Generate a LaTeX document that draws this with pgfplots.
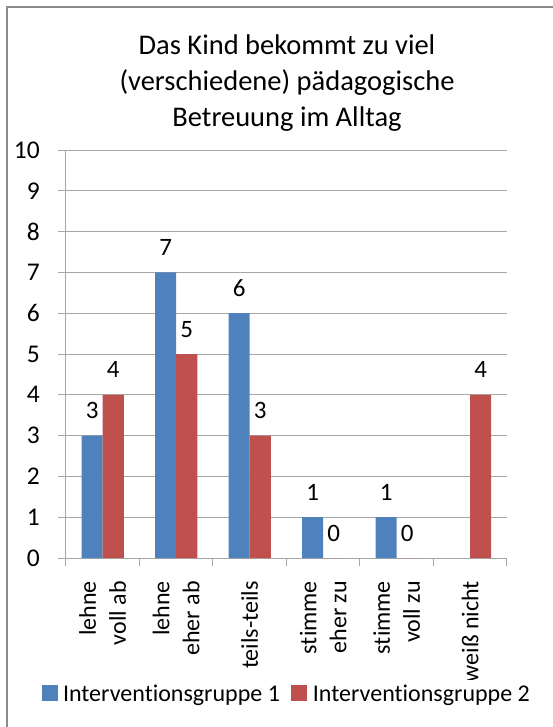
\documentclass[border=0pt]{standalone}
\usepackage{fontspec}
\setmainfont{Carlito}[Ligatures={NoCommon}]
\usepackage{pgfplots}
\pgfplotsset{compat=1.18}
\definecolor{barblue}{HTML}{4F81BD}
\definecolor{barred}{HTML}{C0504D}
\definecolor{gridgray}{HTML}{A6A6A6}
\definecolor{framegray}{HTML}{8C8C8C}
\newcommand{\lblfont}{\fontsize{24}{30}\selectfont}

\begin{document}
\begin{tikzpicture}
\useasboundingbox (0,0) rectangle (553pt,-727pt);
% frame (left and top only are visible)
\draw[framegray, line width=2pt] (7pt,-727pt) -- (7pt,-7pt) -- (553pt,-7pt);
\node[align=center, font=\fontsize{28.5}{36}\selectfont] at (287pt,-83pt)
  {Das Kind bekommt zu viel\\(verschiedene) pädagogische\\Betreuung im Alltag};
\begin{axis}[
  at={(66pt,-558pt)}, anchor=south west,
  scale only axis, width=441pt, height=408pt,
  ybar=0pt, bar width=21pt,
  xmin=0.5, xmax=6.5, ymin=0, ymax=10,
  enlargelimits=false,
  axis x line*=bottom, axis y line*=left,
  axis line style={gridgray, line width=1pt},
  ytick={0,1,...,10},
  xtick={1,...,6},
  minor xtick={0.5,1.5,...,6.5},
  xticklabels={{lehne\\voll ab},{lehne\\eher ab},{teils-teils},{stimme\\eher zu},{stimme\\voll zu},{weiß nicht}},
  major x tick style={draw=none},
  minor x tick style={gridgray, line width=1pt},
  y tick style={gridgray, line width=1pt},
  tick align=outside,
  major tick length=8pt, minor tick length=8pt,
  ymajorgrids, grid style={gridgray, line width=1pt},
  /pgf/number format/assume math mode=true,
  yticklabel style={font=\fontsize{25.5}{30}\selectfont, anchor=east, inner sep=0pt, xshift=-18pt},
  xticklabel style={font=\lblfont, yshift=-15pt, rotate=90, anchor=east, align=right, inner sep=0pt},
  nodes near coords,
  every node near coord/.append style={font=\fontsize{25}{30}\selectfont, anchor=base, inner sep=0pt, yshift=17pt, text=black},
  legend columns=2,
  legend style={draw=none, font=\lblfont, at={(0.501,-0.333)}, anchor=center,
    /tikz/every even column/.append style={column sep=9pt},
    nodes={inner sep=2.5pt}},
  legend image code/.code={\fill[#1] (-1pt,-7pt) rectangle (15pt,9pt); \path (18pt,0pt);},
]
\addplot[fill=barblue, draw=none] coordinates {(1,3) (2,7) (3,6) (4,1) (5,1)};
\addplot[fill=barred, draw=none] coordinates {(1,4) (2,5) (3,3) (4,0) (5,0) (6,4)};
\legend{Interventionsgruppe 1, Interventionsgruppe 2}
\end{axis}
\end{tikzpicture}
\end{document}
